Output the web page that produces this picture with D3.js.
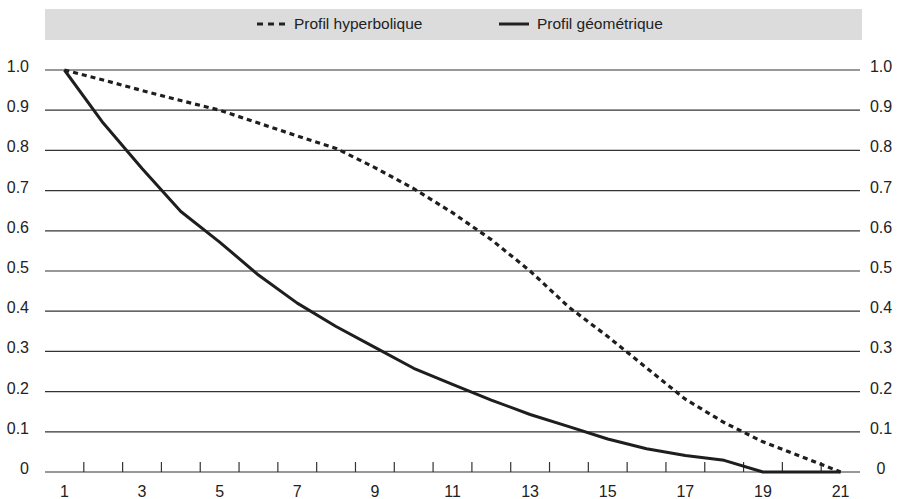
<!DOCTYPE html>
<html>
<head>
<meta charset="utf-8">
<script src="https://cdn.jsdelivr.net/npm/d3@7"></script>
<style>
  body { margin: 0; background: #fff; }
  text { font-family: "Liberation Sans", Arial, sans-serif; fill: #222; }
</style>
</head>
<body>
<div id="chart"></div>
<script>
// Data
const years = d3.range(1, 22);
const hyperbolic = [1.0, 0.975, 0.949, 0.924, 0.9, 0.868, 0.836, 0.805, 0.757, 0.705,
  0.645, 0.578, 0.5, 0.41, 0.337, 0.259, 0.181, 0.123, 0.075, 0.038, 0];
const geometric = [1.0, 0.868, 0.755, 0.648, 0.572, 0.49, 0.42, 0.362, 0.31, 0.258,
  0.218, 0.179, 0.143, 0.113, 0.082, 0.058, 0.041, 0.029, 0, 0, 0];
const yTicks = [0, 0.1, 0.2, 0.3, 0.4, 0.5, 0.6, 0.7, 0.8, 0.9, 1.0];
const xLabels = [1, 3, 5, 7, 9, 11, 13, 15, 17, 19, 21];

function drawProfiles(containerId) {
    const width = 902, height = 499;
    const left = 45, right = 860, top = 70, bottom = 472;

    const svg = d3.select(containerId)
        .html("")
        .append("svg")
        .attr("width", width)
        .attr("height", height);

    const x = d3.scaleBand()
        .domain(years)
        .range([left, right])
        .padding(0);

    const y = d3.scaleLinear()
        .domain([0, 1])
        .range([bottom, top]);

    const cx = d => x(d) + x.bandwidth() / 2;

    // Legend band
    svg.append("rect")
        .attr("x", left)
        .attr("y", 9)
        .attr("width", right - left + 2)
        .attr("height", 31)
        .attr("fill", "#dcdcdc");

    const legend = [
        { label: "Profil hyperbolique", dash: "6,5", x1: 257, x2: 285, tx: 294 },
        { label: "Profil géométrique", dash: null, x1: 499, x2: 529, tx: 537 }
    ];
    legend.forEach(l => {
        svg.append("line")
            .attr("x1", l.x1).attr("x2", l.x2)
            .attr("y1", 24).attr("y2", 24)
            .attr("stroke", "#222")
            .attr("stroke-width", 3)
            .attr("stroke-dasharray", l.dash);
        svg.append("text")
            .attr("x", l.tx)
            .attr("y", 29)
            .style("font-size", "15.5px")
            .text(l.label);
    });

    // Horizontal grid lines
    svg.append("g")
        .selectAll("line")
        .data(yTicks)
        .enter()
        .append("line")
        .attr("x1", left)
        .attr("x2", right)
        .attr("y1", d => y(d))
        .attr("y2", d => y(d))
        .attr("stroke", "#333")
        .attr("stroke-width", 1.2);

    // Y labels, left and right
    const fmt = d => d === 0 ? "0" : d3.format(".1f")(d);
    svg.append("g")
        .selectAll("text")
        .data(yTicks)
        .enter()
        .append("text")
        .attr("x", 29)
        .attr("y", d => y(d) + 2)
        .attr("text-anchor", "end")
        .style("font-size", "16px")
        .text(fmt);

    svg.append("g")
        .selectAll("text")
        .data(yTicks)
        .enter()
        .append("text")
        .attr("x", 881)
        .attr("y", d => y(d) + 2)
        .attr("text-anchor", "middle")
        .style("font-size", "16px")
        .text(fmt);

    // X ticks between categories
    svg.append("g")
        .selectAll("line")
        .data(years.slice(1))
        .enter()
        .append("line")
        .attr("x1", d => x(d))
        .attr("x2", d => x(d))
        .attr("y1", bottom)
        .attr("y2", bottom - 10)
        .attr("stroke", "#333")
        .attr("stroke-width", 1.2);

    svg.append("g")
        .selectAll("text")
        .data(xLabels)
        .enter()
        .append("text")
        .attr("x", d => cx(d))
        .attr("y", 497)
        .attr("text-anchor", "middle")
        .style("font-size", "16px")
        .text(d => d);

    // Lines
    const line = d3.line()
        .x((d, i) => cx(years[i]))
        .y(d => y(d));

    svg.append("path")
        .datum(hyperbolic)
        .attr("d", line)
        .attr("fill", "none")
        .attr("stroke", "#1e1e1e")
        .attr("stroke-width", 3.2)
        .attr("stroke-dasharray", "5,4");

    svg.append("path")
        .datum(geometric)
        .attr("d", line)
        .attr("fill", "none")
        .attr("stroke", "#1e1e1e")
        .attr("stroke-width", 3)
        .attr("stroke-linejoin", "round");
}

drawProfiles("#chart");
</script>
</body>
</html>
